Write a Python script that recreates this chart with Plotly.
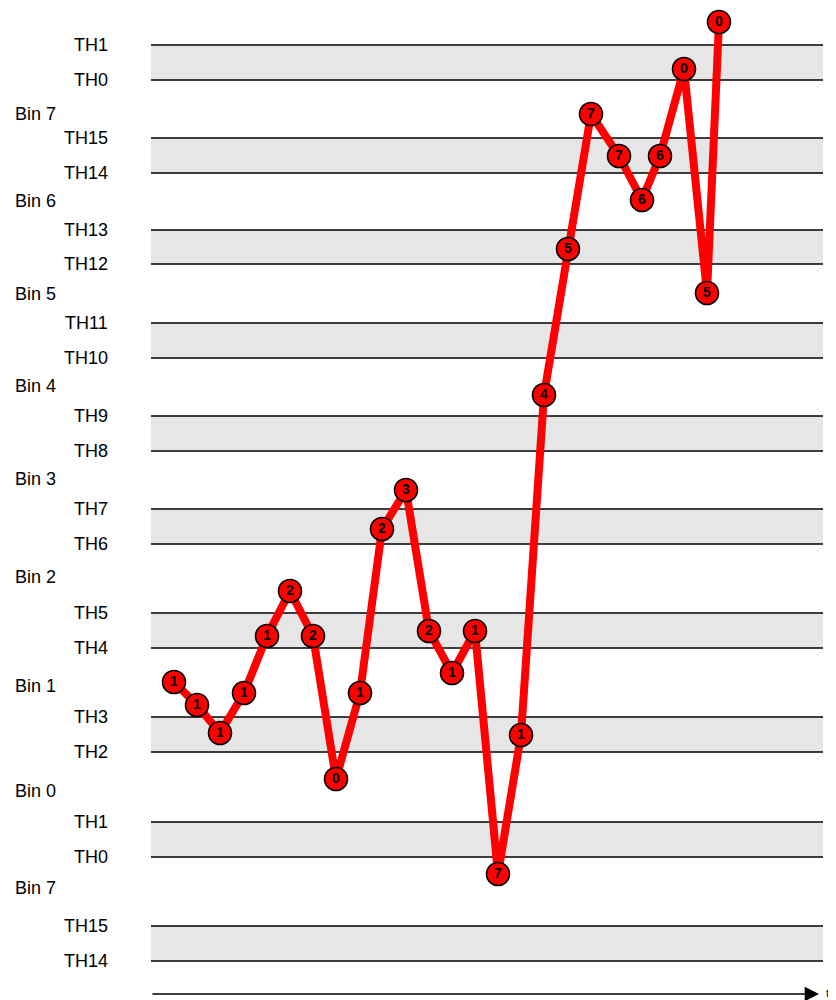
import plotly.graph_objects as go

# threshold lines, top to bottom (y measured in picture rows)
th_labels = ["TH1", "TH0", "TH15", "TH14", "TH13", "TH12", "TH11", "TH10", "TH9", "TH8",
             "TH7", "TH6", "TH5", "TH4", "TH3", "TH2", "TH1", "TH0", "TH15", "TH14"]
th_levels = [45, 80, 138, 173, 230, 264, 323, 358, 416, 451,
             509, 544, 613, 648, 717, 752, 822, 857, 926, 961]

bin_labels = ["Bin 7", "Bin 6", "Bin 5", "Bin 4", "Bin 3", "Bin 2", "Bin 1", "Bin 0", "Bin 7"]
bin_levels = [114, 201, 294, 386, 479, 577, 686, 791, 888]

# samples: time position, level, bin index drawn in the circle
t_pos = [174, 197, 220, 244, 267, 290, 313, 336, 360, 382, 406, 429, 452,
         475, 498, 521, 544, 568, 591, 619, 642, 660, 684, 707, 719]
levels = [682, 705, 733, 693, 636, 591, 636, 779, 693, 529, 490, 631, 673,
          631, 874, 735, 395, 249, 114, 156, 200, 156, 69, 293, 22]
bins = [1, 1, 1, 1, 1, 2, 2, 0, 1, 2, 3, 2, 1,
        1, 7, 1, 4, 5, 7, 7, 6, 6, 0, 5, 0]

X0, X1 = 151, 823
OFF = 8  # page body margin
FONT = "Liberation Sans, Arial, sans-serif"

fig = go.Figure()

shapes = []
for i in range(0, len(th_levels), 2):
    shapes.append(dict(type="rect", xref="x", yref="y", x0=X0, x1=X1,
                       y0=th_levels[i], y1=th_levels[i + 1],
                       fillcolor="#e6e6e6", line=dict(width=0), layer="below"))
for y in th_levels:
    shapes.append(dict(type="line", xref="x", yref="y", x0=X0, x1=X1, y0=y, y1=y,
                       line=dict(color="black", width=1.4), layer="below"))

annotations = []
for lab, y in zip(th_labels, th_levels):
    annotations.append(dict(x=110, y=y, xref="x", yref="y", text=lab, showarrow=False,
                            xanchor="right", yanchor="middle",
                            font=dict(family=FONT, size=18, color="black")))
for lab, y in zip(bin_labels, bin_levels):
    annotations.append(dict(x=13, y=y, xref="x", yref="y", text=lab, showarrow=False,
                            xanchor="left", yanchor="middle",
                            font=dict(family=FONT, size=18, color="black")))

# time axis arrow
annotations.append(dict(x=819, y=994, ax=X0, ay=994, xref="x", yref="y",
                        axref="x", ayref="y", text="", showarrow=True,
                        arrowhead=2, arrowsize=2.2, arrowwidth=1.3, arrowcolor="black"))
annotations.append(dict(x=824, y=993, xref="x", yref="y", text="t", showarrow=False,
                        xanchor="left", yanchor="middle",
                        font=dict(family=FONT, size=11, color="black")))

fig.add_trace(go.Scatter(
    x=t_pos, y=levels, text=[str(b) for b in bins],
    mode="lines+markers+text",
    line=dict(color="red", width=8),
    marker=dict(size=23, color="red", line=dict(color="black", width=1.6)),
    textposition="middle center",
    textfont=dict(family=FONT, size=14, color="black", weight="bold"),
    hoverinfo="skip", showlegend=False, cliponaxis=False,
))

fig.update_layout(
    width=836, height=1000,
    margin=dict(l=0, r=0, t=0, b=0),
    plot_bgcolor="white", paper_bgcolor="white",
    shapes=shapes, annotations=annotations,
    xaxis=dict(range=[OFF, 836 + OFF], visible=False, fixedrange=True),
    yaxis=dict(range=[1000 + OFF, OFF], visible=False, fixedrange=True),
)

fig.write_html("out.html")
